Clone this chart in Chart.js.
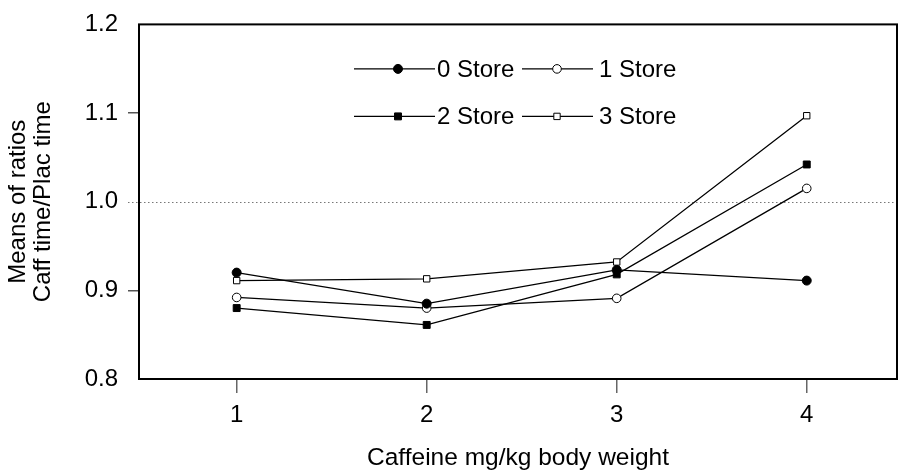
<!DOCTYPE html>
<html>
<head>
<meta charset="utf-8">
<script src="https://cdn.jsdelivr.net/npm/chart.js@4/dist/chart.umd.min.js"></script>
<style>
  html, body { margin: 0; padding: 0; background: #fff; }
  #wrap { width: 899px; height: 470px; }
</style>
</head>
<body>
<div id="wrap"><canvas id="c" width="899" height="470"></canvas></div>
<script>
// Caffeine dose (mg/kg) and mean Caff/Plac time ratios per store group
const DOSES = [1, 2, 3, 4];
const SERIES_LABELS = ['0 Store', '1 Store', '2 Store', '3 Store'];
const STORE_0 = [0.920, 0.885, 0.923, 0.911];
const STORE_1 = [0.892, 0.880, 0.891, 1.015];
const STORE_2 = [0.880, 0.861, 0.918, 1.042];
const STORE_3 = [0.911, 0.913, 0.932, 1.097];
const X_TICKS = [1, 2, 3, 4];
const Y_TICKS = [0.8, 0.9, 1.0, 1.1, 1.2];
const REFERENCE_RATIO = 1.0;
const X_TITLE = 'Caffeine mg/kg body weight';
const Y_TITLE = ['Means of ratios', 'Caff time/Plac time'];

const FONT_FAMILY = '"Liberation Sans", Arial, Helvetica, sans-serif';
const FONT_SIZE = 24;
const INK = '#000';

const toPoints = vals => DOSES.map((d, i) => ({ x: d, y: vals[i] }));

const MARKERS = [
  { style: 'circle', radius: 4.5, fill: INK, stroke: INK },
  { style: 'circle', radius: 4.3, fill: '#fff', stroke: INK },
  { style: 'rect', radius: 4.9, fill: INK, stroke: INK },
  { style: 'rect', radius: 4.5, fill: '#fff', stroke: INK }
];
const SERIES = [STORE_0, STORE_1, STORE_2, STORE_3];

const datasets = SERIES.map((vals, i) => ({
  label: SERIES_LABELS[i],
  data: toPoints(vals),
  borderColor: INK,
  borderWidth: 1.3,
  pointStyle: MARKERS[i].style,
  pointRadius: MARKERS[i].radius,
  pointBackgroundColor: MARKERS[i].fill,
  pointBorderColor: MARKERS[i].stroke,
  pointBorderWidth: 1,
  tension: 0,
  fill: false
}));

function drawMarker(ctx, m, x, y) {
  ctx.beginPath();
  if (m.style === 'circle') {
    ctx.arc(x, y, m.radius, 0, Math.PI * 2);
  } else {
    const h = m.radius * Math.SQRT1_2;
    ctx.rect(x - h, y - h, 2 * h, 2 * h);
  }
  ctx.fillStyle = m.fill;
  ctx.fill();
  ctx.lineWidth = 1;
  ctx.strokeStyle = m.stroke;
  ctx.stroke();
}

// Plot frame and dotted reference line at ratio 1.0
const framePlugin = {
  id: 'frame',
  beforeDatasetsDraw(chart) {
    const { ctx, chartArea: a, scales: { y } } = chart;
    ctx.save();
    const yr = Math.round(y.getPixelForValue(REFERENCE_RATIO)) + 0.5;
    ctx.strokeStyle = '#777';
    ctx.lineWidth = 1;
    ctx.setLineDash([1.5, 2.5]);
    ctx.beginPath();
    ctx.moveTo(a.left - 11, yr);
    ctx.lineTo(a.right, yr);
    ctx.stroke();
    ctx.setLineDash([]);
    ctx.strokeStyle = INK;
    ctx.lineWidth = 2;
    ctx.strokeRect(a.left, a.top, a.right - a.left, a.bottom - a.top);
    ctx.restore();
  }
};

// Two-row legend inside the plot: line, marker, label
const legendPlugin = {
  id: 'innerLegend',
  afterDatasetsDraw(chart) {
    const { ctx, chartArea: a } = chart;
    const rows = [a.top + 44.5, a.top + 92];
    const cols = [
      { x0: a.left + 215, x1: a.left + 296, mx: a.left + 259, tx: a.left + 298 },
      { x0: a.left + 383, x1: a.left + 454, mx: a.left + 418, tx: a.left + 460 }
    ];
    ctx.save();
    ctx.font = FONT_SIZE + 'px ' + FONT_FAMILY;
    ctx.textBaseline = 'middle';
    ctx.textAlign = 'left';
    chart.data.datasets.forEach((ds, i) => {
      const c = cols[i % 2];
      const yy = rows[Math.floor(i / 2)];
      ctx.strokeStyle = INK;
      ctx.lineWidth = 1.3;
      ctx.beginPath();
      ctx.moveTo(c.x0, yy);
      ctx.lineTo(c.x1, yy);
      ctx.stroke();
      drawMarker(ctx, MARKERS[i], c.mx, yy);
      ctx.fillStyle = INK;
      ctx.fillText(ds.label, c.tx, yy + 1);
    });
    ctx.restore();
  }
};

new Chart(document.getElementById('c'), {
  type: 'line',
  data: { datasets },
  plugins: [framePlugin, legendPlugin],
  options: {
    responsive: false,
    animation: false,
    devicePixelRatio: 1,
    layout: { autoPadding: false, padding: { top: 19.5, right: 2, bottom: 0, left: 0 } },
    plugins: { legend: { display: false }, tooltip: { enabled: false } },
    scales: {
      x: {
        type: 'linear',
        min: 0.486,
        max: 4.475,
        afterBuildTicks: s => { s.ticks = X_TICKS.map(v => ({ value: v })); },
        afterFit: s => { s.height = 91; },
        ticks: {
          color: INK,
          font: { family: FONT_FAMILY, size: FONT_SIZE },
          padding: 8,
          maxRotation: 0,
          autoSkip: false,
          callback: v => String(v)
        },
        grid: { drawOnChartArea: false, drawTicks: true, tickLength: 14, color: '#666', lineWidth: 1.5 },
        border: { display: false },
        title: {
          display: true,
          text: X_TITLE,
          color: INK,
          font: { family: FONT_FAMILY, size: 24.5, lineHeight: 1 },
          padding: { top: 0, bottom: 0 }
        }
      },
      y: {
        min: 0.8,
        max: 1.2,
        afterBuildTicks: s => { s.ticks = Y_TICKS.map(v => ({ value: v })); },
        afterFit: s => { s.width = 139; },
        ticks: {
          color: INK,
          font: { family: FONT_FAMILY, size: FONT_SIZE },
          padding: 10,
          callback: v => v.toFixed(1)
        },
        grid: {
          drawOnChartArea: false,
          drawTicks: true,
          tickLength: 11,
          lineWidth: 1.5,
          color: c => {
            const v = c.tick ? Math.round(c.tick.value * 10) / 10 : null;
            if (v === 0.8 || v === 1.2 || v === REFERENCE_RATIO) return 'rgba(0,0,0,0)';
            return '#555';
          }
        },
        border: { display: false },
        title: {
          display: true,
          text: Y_TITLE,
          color: INK,
          font: { family: FONT_FAMILY, size: FONT_SIZE, lineHeight: 1.05 },
          padding: { top: 6, bottom: 0 }
        }
      }
    }
  }
});
</script>
</body>
</html>
